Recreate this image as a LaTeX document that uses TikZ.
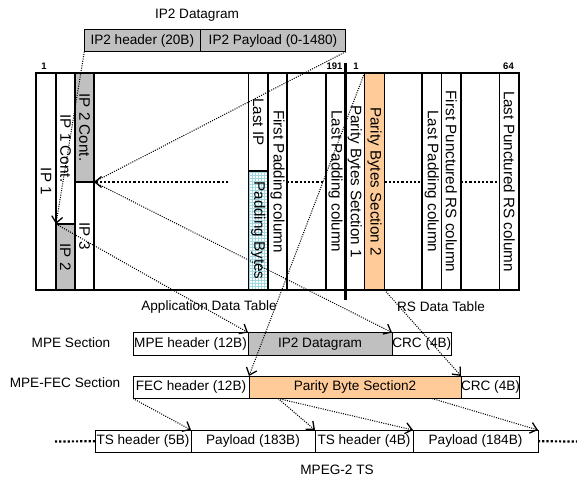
\documentclass[tikz,border=0pt]{standalone}
\usepackage{fontspec}
\setmainfont{Liberation Sans}
\usetikzlibrary{arrows.meta,patterns}
\definecolor{cgray}{RGB}{192,192,192}
\definecolor{corange}{RGB}{255,204,153}
\definecolor{cgrid}{RGB}{160,215,225}
\newcommand\hfs{\fontsize{13.6}{15}\selectfont}
\newcommand\vfs{\fontsize{15.2}{16}\selectfont}
\newcommand\cellnode[6]{\node[#6, minimum width={(#4-#2)*1pt}, minimum height={(#5-#3)*1pt}, anchor=north west] (#1) at (#2,#3) {};}
\begin{document}
\begin{tikzpicture}[x=1pt,y=-1pt,
 cell/.style={draw=black, line width=1.2pt, inner sep=0pt, outer sep=0pt},
 bx/.style={draw=black, line width=1pt, inner sep=0pt, outer sep=0pt, font=\hfs},
 vtext/.style={rotate=-90, inner sep=0pt, font=\vfs},
 lbl/.style={inner sep=0pt, font=\hfs},
 num/.style={inner sep=0pt, font=\fontsize{9.5}{10}\selectfont\bfseries},
 thindots/.style={line width=1.05pt, dash pattern=on 1pt off 1.3pt},
 thickdots/.style={line width=2.2pt, dash pattern=on 2.2pt off 2pt},
 arr/.style={-{Straight Barb[length=6.5pt,width=11pt,line width=1.3pt]}},
]
\useasboundingbox[fill=white] (0,0) rectangle (577,478);

% ---------- table cells ----------
\cellnode{ip1}{36}{73}{56}{290}{cell}
\cellnode{ip1c}{56}{73}{75}{224}{cell}
\cellnode{ip2}{56}{224}{75}{290}{cell,fill=cgray}
\cellnode{ip2c}{75}{73}{94}{182}{cell,fill=cgray}
\cellnode{ip3}{75}{182}{94}{290}{cell}
\cellnode{gap1}{94}{73}{248.5}{290}{cell}
\cellnode{lastip}{248.5}{73}{268}{171}{cell}
\cellnode{padb}{248.5}{171}{268}{290}{cell,pattern=grid,pattern color=cgrid}
\cellnode{fpad}{268}{73}{287}{290}{cell}
\cellnode{gap2}{287}{73}{326}{290}{cell}
\cellnode{lpad}{326}{73}{345}{290}{cell}
\cellnode{pbs1}{345}{73}{364.5}{290}{cell}
\cellnode{pbs2}{364.5}{73}{384.5}{290}{cell,fill=corange}
\cellnode{gap3}{384.5}{73}{422}{290}{cell}
\cellnode{lpad2}{422}{73}{441.5}{290}{cell}
\cellnode{fpunc}{441.5}{73}{461}{290}{cell}
\cellnode{gap4}{461}{73}{499.5}{290}{cell}
\cellnode{lpunc}{499.5}{73}{519}{290}{cell}
\coordinate (botl) at (36,290);
\coordinate (botr) at (519,290);
\draw[line width=2pt] (botl) -- (botr);

% thick separator
\coordinate (septop) at (345,63);
\coordinate (sepbot) at (345,300);
\draw[line width=3pt] (septop) -- (sepbot);

% column numbers
\node[num] (n1) at (44,66.5) {1};
\node[num] (n191) at (334.5,66.5) {191};
\node[num] (n1b) at (356,66.5) {1};
\node[num] (n64) at (508.5,66.5) {64};

% vertical texts
\node[vtext] (t-ip1) at (ip1.center) {IP 1};
\node[vtext] (t-ip1c) at (ip1c.center) {IP 1 Cont.};
\node[vtext] (t-ip2) at (ip2.center) {IP 2};
\node[vtext] (t-ip2c) at (ip2c.center) {IP 2 Cont.};
\node[vtext] (t-ip3) at (ip3.center) {IP 3};
\node[vtext] (t-lastip) at (lastip.center) {Last IP};
\node[vtext] (t-padb) at (padb.center) {Padding Bytes};
\node[vtext] (t-fpad) at (fpad.center) {First Padding column};
\node[vtext] (t-lpad) at (lpad.center) {Last Padding column};
\node[vtext] (t-pbs1) at (pbs1.center) {Parity Bytes Setction 1};
\node[vtext] (t-pbs2) at (pbs2.center) {Parity Bytes Section 2};
\node[vtext] (t-lpad2) at (lpad2.center) {Last Padding column};
\node[vtext] (t-fpunc) at (fpunc.center) {First Punctured RS column};
\node[vtext] (t-lpunc) at (lpunc.center) {Last Punctured RS column};

% ---------- IP2 datagram ----------
\node[lbl] (t-dg) at (197,15) {IP2 Datagram};
\node[bx,fill=cgray,minimum width=116pt,minimum height=21.7pt,anchor=north west] (dgh) at (84.3,30) {IP2 header (20B)};
\node[bx,fill=cgray,minimum width=145.4pt,minimum height=21.7pt,anchor=north west] (dgp) at (200.3,30) {IP2 Payload (0-1480)};

% ---------- MPE section ----------
\node[lbl] (t-mpe) at (71,343) {MPE Section};
\node[bx,minimum width=115pt,minimum height=22.5pt,anchor=north west] (mpeh) at (133,332.5) {MPE header (12B)};
\node[bx,fill=cgray,minimum width=144pt,minimum height=22.5pt,anchor=north west] (mpeip) at (248,332.5) {IP2 Datagram};
\node[bx,minimum width=59.5pt,minimum height=22.5pt,anchor=north west] (mpecrc) at (392,332.5) {CRC (4B)};

% ---------- MPE-FEC section ----------
\node[lbl] (t-fec) at (65,383) {MPE-FEC Section};
\node[bx,minimum width=116pt,minimum height=22.5pt,anchor=north west] (fech) at (133,376) {FEC header (12B)};
\node[bx,fill=corange,minimum width=212pt,minimum height=22.5pt,anchor=north west] (fecpb) at (249,376) {Parity Byte Section2};
\node[bx,minimum width=58pt,minimum height=22.5pt,anchor=north west] (feccrc) at (461,376) {CRC (4B)};

% ---------- TS packets ----------
\node[bx,minimum width=96pt,minimum height=22.5pt,anchor=north west] (ts1) at (95,430) {TS header (5B)};
\node[bx,minimum width=124pt,minimum height=22.5pt,anchor=north west] (pl1) at (191,430) {Payload (183B)};
\node[bx,minimum width=98pt,minimum height=22.5pt,anchor=north west] (ts2) at (315,430) {TS header (4B)};
\node[bx,minimum width=125pt,minimum height=22.5pt,anchor=north west] (pl2) at (413,430) {Payload (184B)};
\node[lbl] (t-ts) at (337,470) {MPEG-2 TS};

% labels
\node[lbl] (t-adt) at (209,307) {Application Data Table};
\node[lbl] (t-rsdt) at (441,307) {RS Data Table};

% ---------- connectors ----------
% thick dotted row marker
\coordinate (hd1) at (228,182);
\draw[thickdots,arr] (hd1) -- (ip3.north east);
\draw[thickdots] (gap2.west |- hd1) -- (gap2.east |- hd1);
\draw[thickdots] (gap3.west |- hd1) -- (gap3.east |- hd1);
\draw[thickdots] (gap4.west |- hd1) -- (gap4.east |- hd1);

% datagram to table
\draw[thindots,arr] (dgh.south west) -- (ip2.north west);
\draw[thindots] (dgp.south east) -- (ip3.north east);

% table to MPE section
\draw[thindots,arr] (ip2.north west) -- (mpeip.north west);
\draw[thindots,arr] (ip3.north east) -- (mpecrc.north west);

% RS table to MPE-FEC section
\draw[thindots,arr] (pbs2.north west) -- (fecpb.north west);
\draw[thindots,arr] (pbs2.south east) -- (feccrc.north west);

% MPE-FEC section to TS packets
\coordinate (fa) at (278,398.5);
\coordinate (fb) at (432,398.5);
\draw[thindots,arr] (fech.south west) -- (ts1.north east);
\draw[thindots,arr] (fa) -- (pl1.north east);
\draw[thindots,arr] (fa) -- (ts2.north east);
\draw[thindots,arr] (fb) -- (pl2.north east);

% TS stream continuation
\coordinate (tsl) at (55,441.5);
\coordinate (tsr) at (577,441.5);
\draw[thickdots] (tsl) -- (ts1.west);
\draw[thickdots] (pl2.east) -- (tsr);
\end{tikzpicture}
\end{document}
